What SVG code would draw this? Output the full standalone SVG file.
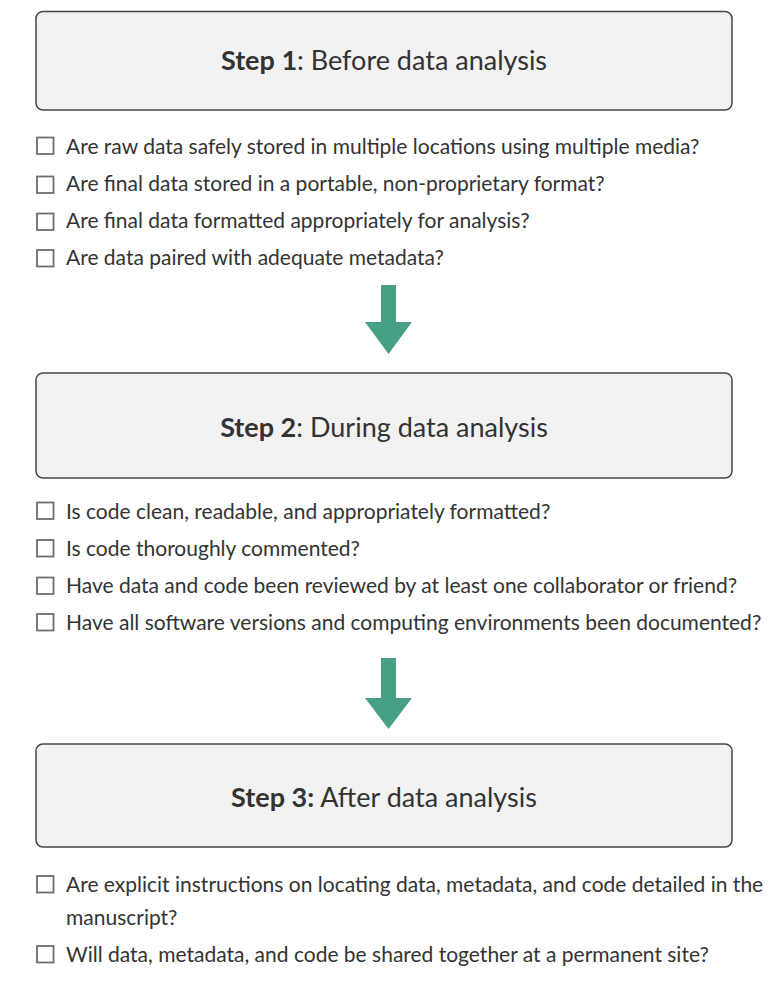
<svg xmlns="http://www.w3.org/2000/svg" width="776" height="998" viewBox="0 0 776 998">
<style>
.box{fill:#f2f2f2;stroke:#444;stroke-width:1.5}
.title{font-family:Lato,"Liberation Sans",sans-serif;font-size:27px;fill:#333;text-anchor:middle}
.b{font-weight:bold}
.item{font-family:Lato,"Liberation Sans",sans-serif;font-size:21px;fill:#333}
.cb{fill:#fff;stroke:#6b6f75;stroke-width:1.8}
.arrow{fill:#47a086}
</style>
<rect width="776" height="998" fill="#fff"/>
<g id="step1">
<rect class="box" x="36" y="11.5" width="696" height="98.5" rx="7"/>
<text class="title" x="384" y="70"><tspan class="b">Step 1</tspan>: Before data analysis</text>
</g>
<g id="list1">
<rect class="cb" x="37" y="137.5" width="16.5" height="16.5"/>
<text class="item" x="66" y="154">Are raw data safely stored in multiple locations using multiple media?</text>
<rect class="cb" x="37" y="176.5" width="16.5" height="16.5"/>
<text class="item" x="66" y="191">Are final data stored in a portable, non-proprietary format?</text>
<rect class="cb" x="37" y="213.5" width="16.5" height="16.5"/>
<text class="item" x="66" y="228">Are final data formatted appropriately for analysis?</text>
<rect class="cb" x="37" y="250" width="16.5" height="16.5"/>
<text class="item" x="66" y="265">Are data paired with adequate metadata?</text>
</g>
<g id="step2">
<rect class="box" x="36" y="373" width="696" height="105" rx="7"/>
<text class="title" x="384" y="437"><tspan class="b">Step 2</tspan>: During data analysis</text>
</g>
<g id="list2">
<rect class="cb" x="37" y="502.5" width="16.5" height="16.5"/>
<text class="item" x="66" y="519">Is code clean, readable, and appropriately formatted?</text>
<rect class="cb" x="37" y="540" width="16.5" height="16.5"/>
<text class="item" x="66" y="556">Is code thoroughly commented?</text>
<rect class="cb" x="37" y="577.5" width="16.5" height="16.5"/>
<text class="item" x="66" y="593">Have data and code been reviewed by at least one collaborator or friend?</text>
<rect class="cb" x="37" y="614" width="16.5" height="16.5"/>
<text class="item" x="66" y="630">Have all software versions and computing environments been documented?</text>
</g>
<g id="step3">
<rect class="box" x="36" y="744" width="696" height="103" rx="7"/>
<text class="title" x="384" y="807"><tspan class="b">Step 3:</tspan> After data analysis</text>
</g>
<g id="list3">
<rect class="cb" x="37" y="876" width="16.5" height="16.5"/>
<text class="item" x="66" y="892">Are explicit instructions on locating data, metadata, and code detailed in the</text>
<text class="item" x="66" y="925">manuscript?</text>
<rect class="cb" x="37" y="946" width="16.5" height="16.5"/>
<text class="item" x="66" y="962">Will data, metadata, and code be shared together at a permanent site?</text>
</g>
<g id="connectors">
<polygon class="arrow" points="381,285 396,285 396,322 412,322 388.5,354 365,322 381,322"/>
<polygon class="arrow" points="381,658 396,658 396,698 412,698 388.5,729 365,698 381,698"/>
</g>
</svg>
